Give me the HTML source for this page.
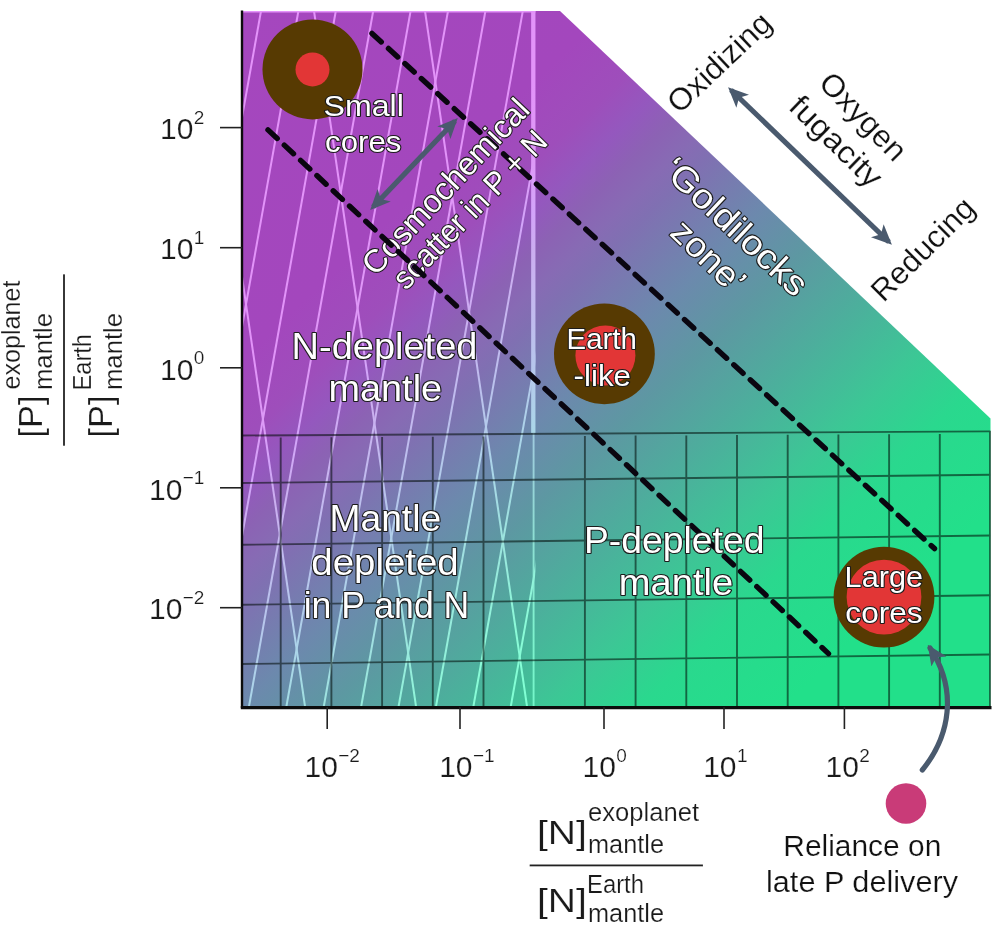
<!DOCTYPE html>
<html lang="en"><head><meta charset="utf-8"><title>Mantle P and N figure</title>
<style>
html,body{margin:0;padding:0;background:#fff;}
body{width:1000px;height:925px;overflow:hidden;}
svg{display:block;font-family:"Liberation Sans",sans-serif;}
.ax{fill:#1a1a1a;stroke:#fff;stroke-width:0.2px;}
.lab{fill:#fff;stroke:#1c1c1c;stroke-width:2.2px;paint-order:stroke fill;stroke-linejoin:round;text-anchor:middle;}
.blk{fill:#111;text-anchor:middle;stroke:#fff;stroke-width:0.2px;}
</style></head><body>
<svg width="1000" height="925" viewBox="0 0 1000 925">
<defs>
<linearGradient id="bg" gradientUnits="userSpaceOnUse" x1="242" y1="11.5" x2="945.8" y2="750">
<stop offset="0" stop-color="#a547be"/>
<stop offset="0.2467" stop-color="#a347bd"/>
<stop offset="0.305" stop-color="#9e4ebb"/>
<stop offset="0.3388" stop-color="#9458be"/>
<stop offset="0.368" stop-color="#8c62b4"/>
<stop offset="0.396" stop-color="#876bb4"/>
<stop offset="0.418" stop-color="#8070b2"/>
<stop offset="0.492" stop-color="#6c89ad"/>
<stop offset="0.5504" stop-color="#5d98a2"/>
<stop offset="0.6255" stop-color="#4caf9c"/>
<stop offset="0.6727" stop-color="#42be98"/>
<stop offset="0.7" stop-color="#3cc795"/>
<stop offset="0.762" stop-color="#2ad88e"/>
<stop offset="0.86" stop-color="#22e08a"/>
<stop offset="1" stop-color="#22e08a"/>
</linearGradient>
<linearGradient id="bgl" gradientUnits="userSpaceOnUse" x1="242" y1="11.5" x2="945.8" y2="750">
<stop offset="0" stop-color="#e493fa"/>
<stop offset="0.2467" stop-color="#e293f9"/>
<stop offset="0.305" stop-color="#dd9af7"/>
<stop offset="0.3388" stop-color="#d3a4fa"/>
<stop offset="0.368" stop-color="#cbaef0"/>
<stop offset="0.396" stop-color="#c6b7f0"/>
<stop offset="0.418" stop-color="#bfbcee"/>
<stop offset="0.492" stop-color="#abd5e9"/>
<stop offset="0.5504" stop-color="#9ce4de"/>
<stop offset="0.6255" stop-color="#8bfbd8"/>
<stop offset="0.6727" stop-color="#81ffd4"/>
<stop offset="0.7" stop-color="#7bffd1"/>
<stop offset="0.762" stop-color="#69ffca"/>
<stop offset="0.86" stop-color="#61ffc6"/>
<stop offset="1" stop-color="#61ffc6"/>
</linearGradient>
<clipPath id="hc"><rect x="242.0" y="11.0" width="293.4" height="696.0"/></clipPath>
<marker id="ah" viewBox="0 0 10 10" refX="8" refY="5" markerWidth="3.9" markerHeight="3.9" orient="auto-start-reverse"><path d="M0,0.5 L10,5 L0,9.5 L2.5,5 Z" fill="#4a5a6e"/></marker>
</defs>
<rect width="1000" height="925" fill="#fff"/>
<polygon points="242.0,11.0 560,11.0 990.5,418.5 990.5,707.0 242.0,707.0" fill="url(#bg)"/>
<g clip-path="url(#hc)" stroke="url(#bgl)" stroke-width="2" fill="none">
<line x1="261.0" y1="11.0" x2="136.7" y2="707.0"/>
<line x1="298.4" y1="11.0" x2="174.1" y2="707.0"/>
<line x1="335.8" y1="11.0" x2="211.5" y2="707.0"/>
<line x1="373.2" y1="11.0" x2="248.9" y2="707.0"/>
<line x1="410.6" y1="11.0" x2="286.3" y2="707.0"/>
<line x1="448.0" y1="11.0" x2="323.7" y2="707.0"/>
<line x1="485.4" y1="11.0" x2="361.1" y2="707.0"/>
<line x1="522.8" y1="11.0" x2="398.5" y2="707.0"/>
<line x1="560.2" y1="11.0" x2="435.9" y2="707.0"/>
<line x1="597.6" y1="11.0" x2="473.3" y2="707.0"/>
<line x1="635.0" y1="11.0" x2="510.7" y2="707.0"/>
<line x1="203.0" y1="11.0" x2="305.1" y2="707.0"/>
<line x1="314.0" y1="11.0" x2="416.1" y2="707.0"/>
<line x1="425.0" y1="11.0" x2="527.1" y2="707.0"/>
</g>
<path d="M242.0,11.8 H535.4" stroke="url(#bgl)" stroke-width="1.6" fill="none"/>
<path d="M533.3,11.0 V433" stroke="url(#bgl)" stroke-width="4.3" fill="none"/>
<path d="M533.6,433 V707.0" stroke="url(#bgl)" stroke-width="1.9" stroke-opacity="0.85" fill="none"/>
<g stroke="#000a06" opacity="0.55" stroke-width="1.9" fill="none">
<line x1="939.8" y1="434.0" x2="939.8" y2="707.0"/>
<line x1="889.1" y1="434.3" x2="889.1" y2="707.0"/>
<line x1="838.4" y1="434.5" x2="838.4" y2="707.0"/>
<line x1="787.7" y1="434.8" x2="787.7" y2="707.0"/>
<line x1="737.0" y1="435.1" x2="737.0" y2="707.0"/>
<line x1="686.3" y1="435.4" x2="686.3" y2="707.0"/>
<line x1="635.6" y1="435.6" x2="635.6" y2="707.0"/>
<line x1="584.9" y1="435.9" x2="584.9" y2="707.0"/>
<line x1="483.5" y1="436.5" x2="483.5" y2="707.0"/>
<line x1="432.8" y1="436.8" x2="432.8" y2="707.0"/>
<line x1="382.1" y1="437.0" x2="382.1" y2="707.0"/>
<line x1="331.4" y1="437.3" x2="331.4" y2="707.0"/>
<line x1="280.7" y1="437.6" x2="280.7" y2="707.0"/>
<line x1="242.0" y1="435.5" x2="990.5" y2="431.4"/>
<line x1="242.0" y1="483" x2="990.5" y2="474.7"/>
<line x1="242.0" y1="544.8" x2="990.5" y2="535.5"/>
<line x1="242.0" y1="604.8" x2="990.5" y2="595.3"/>
<line x1="242.0" y1="664" x2="990.5" y2="654.5"/>
<line x1="990.0" y1="431" x2="990.0" y2="707.0"/>
</g>
<line x1="372" y1="33.4" x2="934.5" y2="548.6" stroke="#0a0610" stroke-width="5.4" stroke-dasharray="12.6 9.7" stroke-linecap="round" fill="none"/>
<text class="lab" transform="translate(445.1 186.2) rotate(-46.8)" x="0" y="11.5" font-size="32" textLength="227.6" lengthAdjust="spacingAndGlyphs">Cosmochemical</text>
<text class="lab" transform="translate(469.5 209.0) rotate(-45.9)" x="0" y="11.5" font-size="32" textLength="206" lengthAdjust="spacingAndGlyphs">scatter in P + N</text>
<line x1="268" y1="129.9" x2="828.5" y2="653.6" stroke="#0a0610" stroke-width="5.4" stroke-dasharray="12.6 9.7" stroke-linecap="round" fill="none"/>
<path d="M242,10.5 V708" stroke="#0c0c0c" stroke-width="2.4" fill="none"/>
<path d="M240.8,707.6 H991.5" stroke="#0c0c0c" stroke-width="3.2" fill="none"/>
<g stroke="#222" stroke-width="1.6">
<line x1="220" y1="127.6" x2="242.0" y2="127.6"/>
<line x1="220" y1="247.7" x2="242.0" y2="247.7"/>
<line x1="220" y1="367.8" x2="242.0" y2="367.8"/>
<line x1="220" y1="487.8" x2="242.0" y2="487.8"/>
<line x1="220" y1="607.7" x2="242.0" y2="607.7"/>
<line x1="327.2" y1="707.0" x2="327.2" y2="729"/>
<line x1="460" y1="707.0" x2="460" y2="729"/>
<line x1="604" y1="707.0" x2="604" y2="729"/>
<line x1="724" y1="707.0" x2="724" y2="729"/>
<line x1="844.4" y1="707.0" x2="844.4" y2="729"/>
</g>
<text class="ax" x="204.3" y="139.4" font-size="30" text-anchor="end">10<tspan font-size="19" dx="0.3" dy="-15.3">2</tspan></text>
<text class="ax" x="204.3" y="259.40000000000003" font-size="30" text-anchor="end">10<tspan font-size="19" dx="0.3" dy="-15.3">1</tspan></text>
<text class="ax" x="204.3" y="379.5" font-size="30" text-anchor="end">10<tspan font-size="19" dx="0.3" dy="-15.3">0</tspan></text>
<text class="ax" x="204.3" y="499.5" font-size="30" text-anchor="end">10<tspan font-size="19" dx="0.3" dy="-15.3">−1</tspan></text>
<text class="ax" x="204.3" y="619.4" font-size="30" text-anchor="end">10<tspan font-size="19" dx="0.3" dy="-15.3">−2</tspan></text>
<text class="ax" x="304.6" y="777" font-size="30" text-anchor="start">10<tspan font-size="19" dx="0.3" dy="-15.3">−2</tspan></text>
<text class="ax" x="439.2" y="777" font-size="30" text-anchor="start">10<tspan font-size="19" dx="0.3" dy="-15.3">−1</tspan></text>
<text class="ax" x="582.6" y="777" font-size="30" text-anchor="start">10<tspan font-size="19" dx="0.3" dy="-15.3">0</tspan></text>
<text class="ax" x="703.2" y="777" font-size="30" text-anchor="start">10<tspan font-size="19" dx="0.3" dy="-15.3">1</tspan></text>
<text class="ax" x="825.6" y="777" font-size="30" text-anchor="start">10<tspan font-size="19" dx="0.3" dy="-15.3">2</tspan></text>
<circle cx="312.5" cy="69.4" r="50" fill="#573a02"/>
<circle cx="312.5" cy="69.4" r="17" fill="#e23636"/>
<circle cx="604.4" cy="353.8" r="50.4" fill="#573a02"/>
<circle cx="605.4" cy="355.40000000000003" r="30" fill="#e23636"/>
<circle cx="884" cy="597.1" r="50.4" fill="#573a02"/>
<circle cx="884" cy="597.1" r="37.4" fill="#e23636"/>
<g stroke="#4a5a6e" stroke-width="5.2" fill="none">
<line x1="731" y1="90" x2="889" y2="242" marker-start="url(#ah)" marker-end="url(#ah)"/>
<line x1="455" y1="121" x2="373" y2="207" marker-start="url(#ah)" marker-end="url(#ah)"/>
<path d="M922.3,770 C950,736 958,690 930,648" stroke-linecap="round" marker-end="url(#ah)"/>
</g>
<circle cx="906" cy="803.5" r="20.3" fill="#c93b78"/>
<text class="lab" x="363.7" y="116" font-size="30" textLength="80.4" lengthAdjust="spacingAndGlyphs">Small</text>
<text class="lab" x="363.3" y="152" font-size="30" textLength="76.4" lengthAdjust="spacingAndGlyphs">cores</text>
<text class="lab" x="384.5" y="359.2" font-size="36" textLength="185.8" lengthAdjust="spacingAndGlyphs">N-depleted</text>
<text class="lab" x="385.3" y="401" font-size="36" textLength="113.6" lengthAdjust="spacingAndGlyphs">mantle</text>
<text class="lab" x="385.3" y="531" font-size="36" textLength="111.6" lengthAdjust="spacingAndGlyphs">Mantle</text>
<text class="lab" x="385" y="575" font-size="36" textLength="147.5" lengthAdjust="spacingAndGlyphs">depleted</text>
<text class="lab" x="386.5" y="618" font-size="36" textLength="165.6" lengthAdjust="spacingAndGlyphs">in P and N</text>
<text class="lab" x="674.2" y="553" font-size="36" textLength="180.6" lengthAdjust="spacingAndGlyphs">P-depleted</text>
<text class="lab" x="676" y="595" font-size="36" textLength="114.3" lengthAdjust="spacingAndGlyphs">mantle</text>
<text class="lab" x="601.7" y="349.4" font-size="29" textLength="70.3" lengthAdjust="spacingAndGlyphs">Earth</text>
<text class="lab" x="602.3" y="386.2" font-size="29" textLength="57.4" lengthAdjust="spacingAndGlyphs">-like</text>
<text class="lab" x="883.8" y="586.7" font-size="29" textLength="78.4" lengthAdjust="spacingAndGlyphs">Large</text>
<text class="lab" x="884" y="623" font-size="29" textLength="77.3" lengthAdjust="spacingAndGlyphs">cores</text>
<text class="lab" transform="translate(736.2 226.2) rotate(43.2)" x="0" y="12.5" font-size="35" textLength="184" lengthAdjust="spacingAndGlyphs">‘Goldilocks</text>
<text class="lab" transform="translate(706.4 258.4) rotate(44)" x="0" y="9.0" font-size="35" textLength="88" lengthAdjust="spacingAndGlyphs">zone’</text>
<text class="blk" transform="translate(718.9 62.1) rotate(-43.4)" x="0" y="11.1" font-size="31" textLength="130" lengthAdjust="spacingAndGlyphs">Oxidizing</text>
<text class="blk" transform="translate(922.2 248.8) rotate(-45)" x="0" y="11.1" font-size="31" textLength="132" lengthAdjust="spacingAndGlyphs">Reducing</text>
<text class="blk" transform="translate(863.6 116.1) rotate(45.6)" x="0" y="11.1" font-size="31" textLength="110" lengthAdjust="spacingAndGlyphs">Oxygen</text>
<text class="blk" transform="translate(836.5 141) rotate(44.4)" x="0" y="11.1" font-size="31" textLength="116" lengthAdjust="spacingAndGlyphs">fugacity</text>
<text class="blk" x="862.3" y="856.3" font-size="29" textLength="158" lengthAdjust="spacingAndGlyphs">Reliance on</text>
<text class="blk" x="862" y="892" font-size="29" textLength="192" lengthAdjust="spacingAndGlyphs">late P delivery</text>
<g class="ax">
<text x="537" y="844" font-size="34" textLength="50" lengthAdjust="spacingAndGlyphs">[N]</text>
<text x="588" y="821" font-size="25" textLength="111" lengthAdjust="spacingAndGlyphs">exoplanet</text>
<text x="588" y="853" font-size="25" textLength="76" lengthAdjust="spacingAndGlyphs">mantle</text>
<rect x="529.6" y="864.4" width="173.4" height="2" fill="#222"/>
<text x="537" y="912" font-size="34" textLength="50" lengthAdjust="spacingAndGlyphs">[N]</text>
<text x="587" y="893.4" font-size="25" textLength="57" lengthAdjust="spacingAndGlyphs">Earth</text>
<text x="588" y="922" font-size="25" textLength="76" lengthAdjust="spacingAndGlyphs">mantle</text>
</g>
<g class="ax" transform="rotate(-90)">
<text x="-437.5" y="42" font-size="34" textLength="42" lengthAdjust="spacingAndGlyphs">[P]</text>
<text x="-389.5" y="19.5" font-size="25" textLength="109" lengthAdjust="spacingAndGlyphs">exoplanet</text>
<text x="-390" y="52.4" font-size="25" textLength="77" lengthAdjust="spacingAndGlyphs">mantle</text>
<rect x="-445.8" y="63" width="171.6" height="2" fill="#222"/>
<text x="-437.5" y="112" font-size="34" textLength="42" lengthAdjust="spacingAndGlyphs">[P]</text>
<text x="-390.5" y="90.8" font-size="25" textLength="56.5" lengthAdjust="spacingAndGlyphs">Earth</text>
<text x="-390" y="122.3" font-size="25" textLength="77" lengthAdjust="spacingAndGlyphs">mantle</text>
</g>
</svg></body></html>
